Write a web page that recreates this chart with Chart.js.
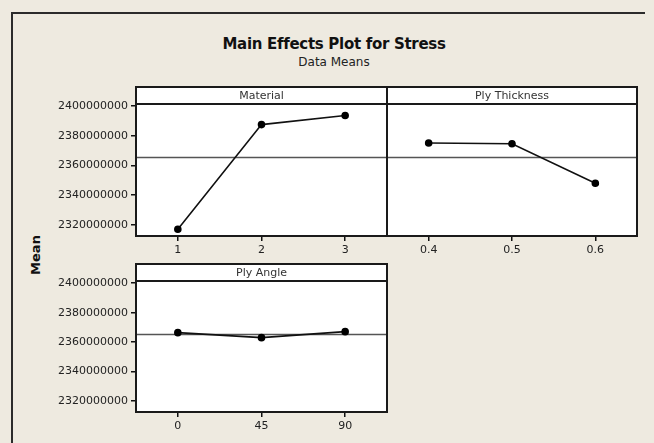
<!DOCTYPE html>
<html>
<head>
<meta charset="utf-8">
<script src="https://cdn.jsdelivr.net/npm/chart.js@4.4.1/dist/chart.umd.min.js"></script>
<style>
  html, body { margin: 0; padding: 0; background: #eeeae0; overflow: hidden; }
  #wrap { position: relative; width: 654px; height: 443px; overflow: hidden; background: #eeeae0; }
  .line { position: absolute; background: #2b2b2b; }
  #fl { left: 11px; top: 12px; width: 2px; height: 431px; }
  #ft { left: 11px; top: 12px; width: 634px; height: 2px; }
  canvas { position: absolute; left: 0; top: 0; }
  .txt { position: absolute; font-family: "DejaVu Sans", sans-serif; color: #111; white-space: nowrap; }
  #title { left: 0; width: 668px; top: 35px; text-align: center; font-weight: bold; font-size: 15px; letter-spacing: -0.3px; }
  #sub { left: 0; width: 668px; top: 55px; text-align: center; font-size: 12px; color: #222; }
  #ylab { left: 35px; top: 255px; font-weight: bold; font-size: 13px; transform: translate(-50%, -50%) rotate(-90deg); }
</style>
</head>
<body>
<div id="wrap">
  <div class="line" id="fl"></div>
  <div class="line" id="ft"></div>
  <div class="txt" id="title">Main Effects Plot for Stress</div>
  <div class="txt" id="sub">Data Means</div>
  <div class="txt" id="ylab">Mean</div>
  <canvas id="c1" width="654" height="443"></canvas>
  <canvas id="c2" width="654" height="443"></canvas>
  <canvas id="c3" width="654" height="443"></canvas>
</div>
<script>
// values
const materialLevels = ["1", "2", "3"];
const materialMeans = [2317100000, 2387600000, 2393700000];

const thicknessLevels = ["0.4", "0.5", "0.6"];
const thicknessMeans = [2375200000, 2374700000, 2348100000];

const angleLevels = ["0", "45", "90"];
const angleMeans = [2366400000, 2363000000, 2367100000];

const grandMean = 2365500000;
const yTicks = [2320000000, 2340000000, 2360000000, 2380000000, 2400000000];
const yMin = 2312500000;
const yMax = 2401500000;

const font = "DejaVu Sans";

// white panel, reference line, strip on top and black border
const panelPlugin = {
  id: "panel",
  beforeDraw(chart) {
    const a = chart.chartArea;
    const ctx = chart.ctx;
    ctx.save();
    ctx.fillStyle = "#ffffff";
    ctx.fillRect(a.left, a.top, a.right - a.left, a.bottom - a.top);
    ctx.restore();
  },
  beforeDatasetsDraw(chart) {
    const a = chart.chartArea;
    const ctx = chart.ctx;
    const y = Math.round(chart.scales.y.getPixelForValue(grandMean)) + 0.5;
    ctx.save();
    ctx.strokeStyle = "#555555";
    ctx.lineWidth = 1.5;
    ctx.beginPath();
    ctx.moveTo(a.left, y);
    ctx.lineTo(a.right, y);
    ctx.stroke();
    ctx.restore();
  },
  afterDraw(chart, args, opts) {
    const a = chart.chartArea;
    const ctx = chart.ctx;
    ctx.save();
    ctx.fillStyle = "#ffffff";
    ctx.fillRect(a.left, a.top - 17, a.right - a.left, 17);
    ctx.strokeStyle = "#1a1a1a";
    ctx.lineWidth = 2;
    ctx.strokeRect(a.left, a.top - 17, a.right - a.left, 17);
    ctx.strokeRect(a.left, a.top, a.right - a.left, a.bottom - a.top);
    ctx.fillStyle = "#333333";
    ctx.font = "11px '" + font + "'";
    ctx.textAlign = "center";
    ctx.textBaseline = "middle";
    ctx.fillText(opts.label, (a.left + a.right) / 2, a.top - 8);
    ctx.restore();
  }
};

function makePanel(id, label, levels, means, pad, showY) {
  return new Chart(document.getElementById(id), {
    type: "line",
    data: {
      labels: levels,
      datasets: [{
        data: means,
        borderColor: "#111111",
        borderWidth: 1.6,
        pointRadius: 3,
        pointBackgroundColor: "#000000",
        pointBorderColor: "#000000",
        tension: 0
      }]
    },
    options: {
      responsive: false,
      animation: false,
      layout: { padding: pad },
      plugins: {
        legend: { display: false },
        tooltip: { enabled: false },
        panel: { label: label }
      },
      scales: {
        x: {
          type: "category",
          offset: true,
          afterFit: (s) => { s.height = 30; },
          grid: { offset: false, drawOnChartArea: false, drawTicks: true, tickLength: 5, color: "#111111", lineWidth: 1.5 },
          border: { display: false },
          ticks: { color: "#222222", font: { family: font, size: 11 }, padding: 3, maxRotation: 0 }
        },
        y: {
          display: showY,
          min: yMin,
          max: yMax,
          afterFit: (s) => { s.width = showY ? 80 : 0; },
          afterBuildTicks: (s) => { s.ticks = yTicks.map(v => ({ value: v })); },
          grid: { drawOnChartArea: false, drawTicks: true, tickLength: 5, color: "#111111", lineWidth: 1.5 },
          border: { display: false },
          ticks: { color: "#222222", font: { family: font, size: 11 }, padding: 3, callback: (v) => v.toFixed(0) }
        }
      }
    },
    plugins: [panelPlugin]
  });
}

makePanel("c1", "Material", materialLevels, materialMeans, { left: 56, right: 267, top: 104, bottom: 177 }, true);
makePanel("c2", "Ply Thickness", thicknessLevels, thicknessMeans, { left: 387, right: 17, top: 104, bottom: 177 }, false);
makePanel("c3", "Ply Angle", angleLevels, angleMeans, { left: 56, right: 267, top: 281, bottom: 1 }, true);
</script>
</body>
</html>
